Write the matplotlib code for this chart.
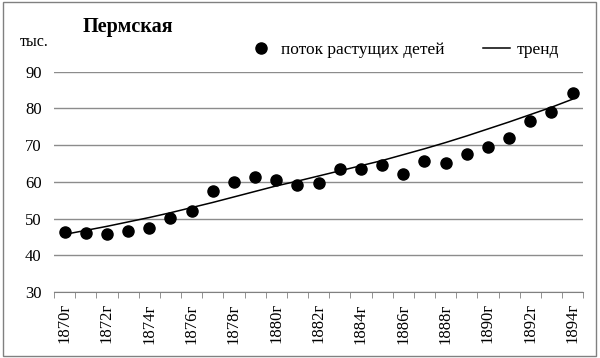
import matplotlib.pyplot as plt
from matplotlib.patches import Rectangle

plt.rcParams['font.family'] = ['Liberation Serif', 'DejaVu Serif']

years = list(range(1870, 1895))
# поток растущих детей, тыс.
potok = [46.4, 46.2, 45.9, 46.7, 47.4, 50.3, 52.1, 57.4, 60.0, 61.4,
         60.5, 59.1, 59.7, 63.4, 63.4, 64.7, 62.2, 65.7, 65.0, 67.5,
         69.4, 71.8, 76.5, 78.9, 84.1]
# тренд
trend = [45.7, 46.8, 47.9, 49.1, 50.3, 51.6, 53.0, 54.4, 55.9, 57.4,
         58.9, 60.2, 61.6, 63.0, 64.4, 65.8, 67.4, 69.0, 70.7, 72.5,
         74.4, 76.3, 78.3, 80.3, 82.5]
xlabels = [str(y) + 'г' for y in years[::2]]

fig = plt.figure(figsize=(6, 3.58), dpi=100)
ax = fig.add_axes([0.09, 0.184, 0.882, 0.616])

ax.plot(years, potok, 'o', color='black', markersize=8, label='поток растущих детей')
ax.plot(years, trend, '-', color='black', linewidth=1.1, label='тренд')

ax.set_ylim(30, 90)
ax.set_xlim(1869.5, 1894.5)
ax.set_yticks(range(30, 100, 10))
ax.yaxis.grid(True, color='#8c8c8c', linewidth=1)
ax.set_axisbelow(True)
ax.set_xticks(years[::2])
ax.set_xticklabels(xlabels, rotation=90, fontsize=12)
ax.set_xticks([y - 0.5 for y in years] + [1894.5], minor=True)
ax.tick_params(axis='x', which='major', length=0, pad=8)
ax.tick_params(axis='x', which='minor', length=4, color='#808080', direction='out')
ax.tick_params(axis='y', length=0, labelsize=12, pad=9)
for s in ['left', 'right', 'top']:
    ax.spines[s].set_visible(False)
ax.spines['bottom'].set_color('#808080')

fig.text(0.138, 0.91, 'Пермская', fontsize=14.5, fontweight='bold')
fig.text(0.033, 0.872, 'тыс.', fontsize=11.5)

fig.legend(loc='center left', bbox_to_anchor=(0.398, 0.86), ncol=2, frameon=False,
           fontsize=12.5, borderpad=0, columnspacing=2.2, handlelength=1.55,
           handletextpad=0.4)

fig.add_artist(Rectangle((0.005, 0.006), 0.988, 0.988, transform=fig.transFigure,
                         fill=False, edgecolor='#808080', linewidth=1))

fig.savefig('out.png')
